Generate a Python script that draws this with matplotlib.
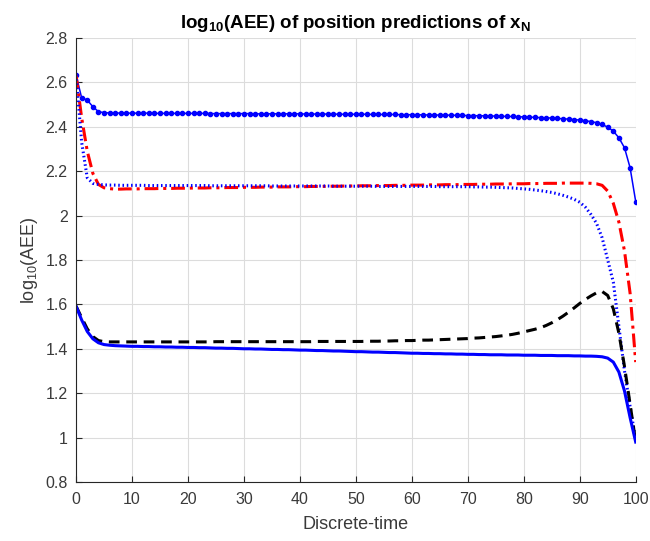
import numpy as np
import matplotlib
matplotlib.use('Agg')
import matplotlib.pyplot as plt

plt.rcParams['font.family'] = ['Liberation Sans', 'DejaVu Sans']
plt.rcParams['mathtext.fontset'] = 'custom'
plt.rcParams['mathtext.rm'] = 'Liberation Sans'
plt.rcParams['mathtext.it'] = 'Liberation Sans:italic'
plt.rcParams['mathtext.bf'] = 'Liberation Sans:bold'

# discrete time steps
t = list(range(0, 101))

# blue solid line with dot markers
blue_marked = [
    2.633, 2.530, 2.520, 2.490, 2.468, 2.463, 2.462, 2.462, 2.461, 2.461,
    2.461, 2.461, 2.461, 2.461, 2.460, 2.460, 2.460, 2.460, 2.460, 2.460,
    2.460, 2.460, 2.460, 2.460, 2.459, 2.459, 2.459, 2.459, 2.459, 2.459,
    2.459, 2.459, 2.458, 2.458, 2.458, 2.458, 2.458, 2.458, 2.458, 2.458,
    2.458, 2.457, 2.457, 2.457, 2.457, 2.457, 2.457, 2.456, 2.456, 2.456,
    2.456, 2.456, 2.456, 2.455, 2.455, 2.455, 2.455, 2.455, 2.454, 2.454,
    2.454, 2.454, 2.453, 2.453, 2.453, 2.452, 2.452, 2.452, 2.451, 2.451,
    2.450, 2.450, 2.449, 2.449, 2.448, 2.448, 2.447, 2.446, 2.446, 2.445,
    2.444, 2.443, 2.442, 2.441, 2.440, 2.439, 2.437, 2.436, 2.434, 2.432,
    2.430, 2.427, 2.423, 2.418, 2.410, 2.398, 2.380, 2.350, 2.305, 2.215,
    2.063]

# red dash-dot line
red_dashdot = [
    2.633, 2.440, 2.290, 2.190, 2.140, 2.125, 2.121, 2.119, 2.119, 2.120,
    2.120, 2.120, 2.121, 2.121, 2.121, 2.122, 2.122, 2.122, 2.123, 2.123,
    2.123, 2.124, 2.124, 2.124, 2.125, 2.125, 2.125, 2.126, 2.126, 2.126,
    2.127, 2.127, 2.127, 2.128, 2.128, 2.128, 2.129, 2.129, 2.129, 2.130,
    2.130, 2.130, 2.131, 2.131, 2.131, 2.132, 2.132, 2.132, 2.133, 2.133,
    2.133, 2.134, 2.134, 2.134, 2.135, 2.135, 2.135, 2.136, 2.136, 2.136,
    2.137, 2.137, 2.137, 2.138, 2.138, 2.138, 2.139, 2.139, 2.139, 2.140,
    2.140, 2.140, 2.141, 2.141, 2.141, 2.142, 2.142, 2.142, 2.143, 2.143,
    2.143, 2.144, 2.144, 2.144, 2.145, 2.145, 2.145, 2.146, 2.146, 2.146,
    2.146, 2.146, 2.145, 2.143, 2.136, 2.110, 2.055, 1.970, 1.840, 1.650,
    1.340]

# blue dotted line
blue_dotted = [
    2.633, 2.330, 2.170, 2.145, 2.140, 2.138, 2.137, 2.137, 2.136, 2.136,
    2.136, 2.136, 2.136, 2.135, 2.135, 2.135, 2.135, 2.135, 2.135, 2.135,
    2.135, 2.135, 2.135, 2.135, 2.134, 2.134, 2.134, 2.134, 2.134, 2.134,
    2.134, 2.134, 2.134, 2.134, 2.134, 2.133, 2.133, 2.133, 2.133, 2.133,
    2.133, 2.133, 2.133, 2.133, 2.133, 2.133, 2.132, 2.132, 2.132, 2.132,
    2.132, 2.132, 2.132, 2.132, 2.131, 2.131, 2.131, 2.131, 2.131, 2.131,
    2.131, 2.131, 2.131, 2.131, 2.131, 2.130, 2.130, 2.130, 2.130, 2.130,
    2.130, 2.129, 2.129, 2.128, 2.128, 2.127, 2.126, 2.125, 2.124, 2.122,
    2.120, 2.118, 2.115, 2.112, 2.108, 2.104, 2.098, 2.091, 2.083, 2.073,
    2.060, 2.038, 2.005, 1.965, 1.900, 1.800, 1.700, 1.500, 1.300, 1.140,
    0.990]

# black dashed line
black_dashed = [
    1.592, 1.540, 1.490, 1.455, 1.437, 1.432, 1.431, 1.431, 1.431, 1.431,
    1.431, 1.431, 1.431, 1.431, 1.431, 1.431, 1.431, 1.431, 1.431, 1.431,
    1.431, 1.431, 1.431, 1.431, 1.431, 1.432, 1.432, 1.432, 1.432, 1.432,
    1.432, 1.432, 1.432, 1.432, 1.432, 1.432, 1.432, 1.432, 1.432, 1.432,
    1.432, 1.432, 1.432, 1.433, 1.433, 1.433, 1.433, 1.433, 1.433, 1.433,
    1.433, 1.433, 1.434, 1.434, 1.434, 1.435, 1.435, 1.436, 1.436, 1.437,
    1.437, 1.438, 1.439, 1.439, 1.440, 1.441, 1.442, 1.443, 1.444, 1.445,
    1.446, 1.448, 1.449, 1.451, 1.453, 1.455, 1.458, 1.461, 1.465, 1.470,
    1.476, 1.482, 1.488, 1.495, 1.505, 1.517, 1.531, 1.547, 1.565, 1.584,
    1.604, 1.622, 1.638, 1.652, 1.658, 1.640, 1.580, 1.470, 1.320, 1.150,
    0.980]

# blue solid line
blue_solid = [
    1.592, 1.530, 1.478, 1.445, 1.427, 1.419, 1.416, 1.414, 1.413, 1.412,
    1.411, 1.411, 1.410, 1.410, 1.409, 1.409, 1.408, 1.408, 1.407, 1.407,
    1.406, 1.406, 1.405, 1.405, 1.404, 1.403, 1.403, 1.402, 1.402, 1.401,
    1.400, 1.400, 1.399, 1.399, 1.398, 1.397, 1.397, 1.396, 1.396, 1.395,
    1.394, 1.394, 1.393, 1.392, 1.392, 1.391, 1.390, 1.390, 1.389, 1.388,
    1.387, 1.387, 1.386, 1.385, 1.385, 1.384, 1.383, 1.383, 1.382, 1.381,
    1.380, 1.380, 1.379, 1.379, 1.378, 1.378, 1.377, 1.377, 1.376, 1.376,
    1.375, 1.375, 1.374, 1.374, 1.373, 1.373, 1.373, 1.372, 1.372, 1.372,
    1.371, 1.371, 1.371, 1.370, 1.370, 1.370, 1.369, 1.369, 1.369, 1.368,
    1.368, 1.367, 1.367, 1.366, 1.364, 1.358, 1.340, 1.295, 1.210, 1.090,
    0.980]

xticks = [0, 10, 20, 30, 40, 50, 60, 70, 80, 90, 100]
yticks = [0.8, 1.0, 1.2, 1.4, 1.6, 1.8, 2.0, 2.2, 2.4, 2.6, 2.8]
ytick_labels = ['0.8', '1', '1.2', '1.4', '1.6', '1.8', '2', '2.2', '2.4', '2.6', '2.8']

fig = plt.figure(figsize=(6.5, 5.41), dpi=100)
ax = fig.add_axes([0.117, 0.109, 0.861, 0.821])

ax.plot(t, blue_marked, color='blue', lw=1.1, marker='o', ms=3.0)
ax.plot(t, red_dashdot, color='red', lw=2.2, dashes=(4.5, 1.6, 1, 1.6))
ax.plot(t, blue_dotted, color='blue', lw=2.2, dashes=(0.5, 0.9))
ax.plot(t, black_dashed, color='black', lw=2.2, dashes=(3.5, 2.2))
ax.plot(t, blue_solid, color='blue', lw=2.2)

ax.set_xlim(0, 100)
ax.set_ylim(0.8, 2.8)
ax.set_xticks(xticks)
ax.set_yticks(yticks)
ax.set_yticklabels(ytick_labels)
ax.grid(True, color='#dcdcdc', lw=0.8)
ax.set_axisbelow(True)

for side in ['top', 'right']:
    ax.spines[side].set_visible(False)
for side in ['left', 'bottom']:
    ax.spines[side].set_color('#262626')
    ax.spines[side].set_linewidth(0.8)

ax.tick_params(direction='in', length=4, color='#262626', labelcolor='#3a3a3a',
               labelsize=11.5, width=0.8)
ax.tick_params(axis='x', pad=7)
ax.tick_params(axis='y', pad=6)

ax.set_xlabel('Discrete-time', fontsize=13, color='#3a3a3a', labelpad=7)
ax.set_ylabel('log$_{10}$(AEE)', fontsize=13, color='#3a3a3a', labelpad=4)
ax.set_title(r'log$_{\mathbf{10}}$(AEE) of position predictions of x$_{\mathbf{N}}$',
             fontsize=13.5, fontweight='bold', color='black', pad=7)

fig.savefig('out.png', dpi=100)
